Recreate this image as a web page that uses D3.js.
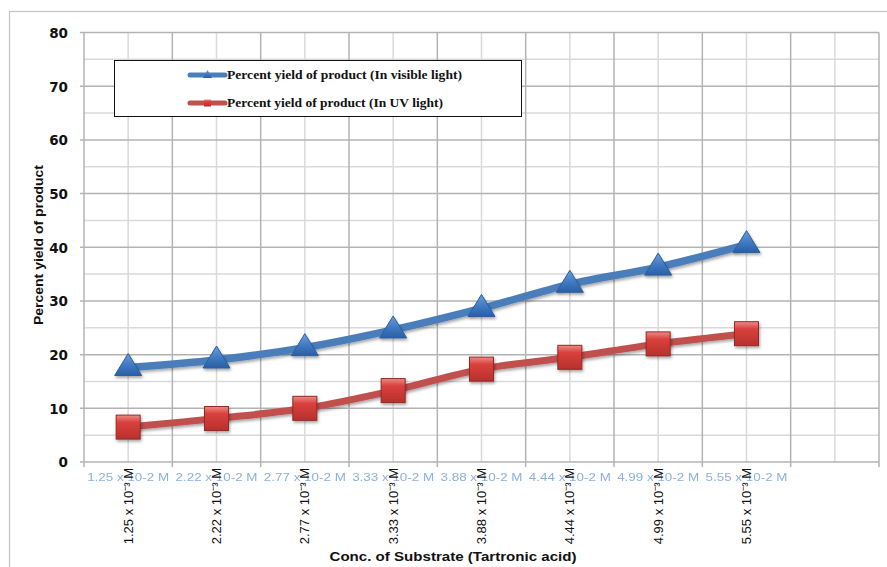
<!DOCTYPE html>
<html>
<head>
<meta charset="utf-8">
<script src="https://cdn.jsdelivr.net/npm/d3@7"></script>
<style>
  html, body { margin: 0; padding: 0; background: #ffffff; }
  svg { display: block; }
</style>
</head>
<body>
<svg id="chart" width="887" height="567"></svg>
<script>
// Substrate concentrations (category axis)
const concTop = ["1.25 x 10-2 M", "2.22 x 10-2 M", "2.77 x 10-2 M", "3.33 x 10-2 M",
                 "3.88 x 10-2 M", "4.44 x 10-2 M", "4.99 x 10-2 M", "5.55 x 10-2 M"];
const concRot = ["1.25 x 10\u207B\u00B3 M", "2.22 x 10\u207B\u00B3 M", "2.77 x 10\u207B\u00B3 M", "3.33 x 10\u207B\u00B3 M",
                 "3.88 x 10\u207B\u00B3 M", "4.44 x 10\u207B\u00B3 M", "4.99 x 10\u207B\u00B3 M", "5.55 x 10\u207B\u00B3 M"];
// Percent yield of product
const visibleYield = [17.6, 19.0, 21.3, 24.6, 28.6, 33.1, 36.3, 40.5];
const uvYield      = [6.5, 8.1, 10.0, 13.3, 17.3, 19.5, 22.0, 23.9];
const yTicks = [0, 10, 20, 30, 40, 50, 60, 70, 80];
const seriesNames = ["Percent yield of product (In visible light)", "Percent yield of product (In UV light)"];

const svg = d3.select("#chart");
const plotL = 84, plotR = 879, plotT = 32.5, plotB = 462;

// one extra empty slot at the right end of the category axis
const slots = concTop.map((d, i) => i).concat([8]);
const x = d3.scaleBand().domain(slots).range([plotL, plotR]).paddingInner(0).paddingOuter(0);
const cx = i => x(i) + x.bandwidth() / 2;
const y = d3.scaleLinear().domain([0, 80]).range([plotB, plotT]);

const defs = svg.append("defs");
const triGrad = defs.append("linearGradient").attr("id", "triGrad").attr("x1", 0).attr("y1", 0).attr("x2", 0).attr("y2", 1);
triGrad.append("stop").attr("offset", "0%").attr("stop-color", "#6c9ddb");
triGrad.append("stop").attr("offset", "55%").attr("stop-color", "#3f78c2");
triGrad.append("stop").attr("offset", "100%").attr("stop-color", "#2b5fa3");
const sqGrad = defs.append("linearGradient").attr("id", "sqGrad").attr("x1", 0).attr("y1", 0).attr("x2", 0).attr("y2", 1);
sqGrad.append("stop").attr("offset", "0%").attr("stop-color", "#f08a86");
sqGrad.append("stop").attr("offset", "30%").attr("stop-color", "#d9413d");
sqGrad.append("stop").attr("offset", "100%").attr("stop-color", "#b8302c");
const shadow = defs.append("filter").attr("id", "shadow").attr("x", "-30%").attr("y", "-30%").attr("width", "160%").attr("height", "160%");
shadow.append("feDropShadow").attr("dx", 1).attr("dy", 2).attr("stdDeviation", 1.5)
  .attr("flood-color", "#000").attr("flood-opacity", 0.35);
const soft = defs.append("filter").attr("id", "soft");
soft.append("feGaussianBlur").attr("stdDeviation", 0.5);

// chart area border
svg.append("rect").attr("x", 9.5).attr("y", 11.5).attr("width", 900).attr("height", 600)
  .attr("fill", "none").attr("stroke", "#c4c4c4").attr("stroke-width", 1.2);

// grid: minor every 5, major every 10
const grid = svg.append("g");
d3.range(5, 80, 10).forEach(v => {
  grid.append("line").attr("x1", plotL).attr("x2", plotR).attr("y1", y(v)).attr("y2", y(v))
    .attr("stroke", "#dadada").attr("stroke-width", 1.5);
});
slots.forEach(i => {
  grid.append("line").attr("x1", cx(i)).attr("x2", cx(i)).attr("y1", plotT).attr("y2", plotB)
    .attr("stroke", "#dadada").attr("stroke-width", 1.5);
});
yTicks.forEach(v => {
  grid.append("line").attr("x1", plotL - 4).attr("x2", plotR).attr("y1", y(v)).attr("y2", y(v))
    .attr("stroke", "#b3b3b3").attr("stroke-width", 1.5);
});
slots.concat([9]).forEach(i => {
  const xx = i < 9 ? x(i) : plotR;
  grid.append("line").attr("x1", xx).attr("x2", xx).attr("y1", plotT).attr("y2", plotB + 5)
    .attr("stroke", "#b3b3b3").attr("stroke-width", 1.5);
});

// y axis labels
const yAxis = d3.axisLeft(y).tickValues(yTicks).tickSize(0).tickPadding(16);
const yg = svg.append("g").attr("transform", `translate(${plotL},0)`).call(yAxis);
yg.select(".domain").remove();
yg.selectAll("text").attr("font-family", "DejaVu Sans").attr("font-weight", "bold")
  .attr("font-size", 13.5).attr("fill", "#111").attr("dy", "0.36em");

// faint horizontal category labels
svg.append("g").selectAll("text").data(concTop).join("text")
  .attr("x", (d, i) => cx(i)).attr("y", 481)
  .attr("text-anchor", "middle").attr("font-family", "Liberation Sans").attr("font-size", 10)
  .attr("fill", "#8cb0de").attr("textLength", 82).attr("lengthAdjust", "spacingAndGlyphs")
  .attr("filter", "url(#soft)")
  .text(d => d);

// rotated category labels
svg.append("g").selectAll("text").data(concRot).join("text")
  .attr("transform", (d, i) => `translate(${cx(i) + 4.5},468) rotate(-90)`)
  .attr("text-anchor", "end").attr("font-family", "Liberation Sans").attr("font-size", 13)
  .attr("fill", "#111").text(d => d);

// axis titles
svg.append("text").attr("transform", "translate(43,245) rotate(-90)")
  .attr("text-anchor", "middle").attr("font-family", "Liberation Sans").attr("font-weight", "bold")
  .attr("font-size", 13).attr("textLength", 160).attr("lengthAdjust", "spacingAndGlyphs")
  .attr("fill", "#111").text("Percent yield of product");
svg.append("text").attr("x", 453).attr("y", 561)
  .attr("text-anchor", "middle").attr("font-family", "Liberation Sans").attr("font-weight", "bold")
  .attr("font-size", 13.5).attr("textLength", 247).attr("lengthAdjust", "spacingAndGlyphs")
  .attr("fill", "#111").text("Conc. of Substrate (Tartronic acid)");

// series
const line = d3.line().x((d, i) => cx(i)).y(d => y(d)).curve(d3.curveCatmullRom.alpha(0.5));
const tri = "M0,-14L13.5,8L-13.5,8Z";

svg.append("path").datum(uvYield).attr("d", line).attr("fill", "none")
  .attr("stroke", "#c0504d").attr("stroke-width", 7).attr("stroke-linejoin", "round").attr("filter", "url(#shadow)");
svg.append("path").datum(visibleYield).attr("d", line).attr("fill", "none")
  .attr("stroke", "#4a7ebb").attr("stroke-width", 7.5).attr("stroke-linejoin", "round").attr("filter", "url(#shadow)");

svg.append("g").selectAll("rect").data(uvYield).join("rect")
  .attr("x", (d, i) => cx(i) - 12).attr("y", d => y(d) - 12)
  .attr("width", 24).attr("height", 24)
  .attr("fill", "url(#sqGrad)").attr("stroke", "#8f2b28").attr("stroke-width", 1)
  .attr("filter", "url(#shadow)");
svg.append("g").selectAll("path").data(visibleYield).join("path")
  .attr("transform", (d, i) => `translate(${cx(i)},${y(d)})`)
  .attr("d", tri).attr("fill", "url(#triGrad)").attr("stroke", "#2c5f9e").attr("stroke-width", 1)
  .attr("stroke-linejoin", "round").attr("filter", "url(#shadow)");

// legend
const lg = svg.append("g");
lg.append("rect").attr("x", 114.5).attr("y", 60.5).attr("width", 407).attr("height", 56)
  .attr("fill", "#ffffff").attr("stroke", "#111").attr("stroke-width", 1);
const legendRows = [
  { name: seriesNames[0], color: "#4a7ebb", yy: 75, len: 235, marker: "tri" },
  { name: seriesNames[1], color: "#c0504d", yy: 103, len: 216, marker: "sq" }
];
legendRows.forEach(r => {
  lg.append("line").attr("x1", 190).attr("x2", 225).attr("y1", r.yy).attr("y2", r.yy)
    .attr("stroke", r.color).attr("stroke-width", 5).attr("stroke-linecap", "round");
  if (r.marker === "tri") {
    lg.append("path").attr("transform", `translate(207.5,${r.yy})`).attr("d", "M0,-5L4.5,3L-4.5,3Z")
      .attr("fill", "url(#triGrad)");
  } else {
    lg.append("rect").attr("x", 204).attr("y", r.yy - 3.5).attr("width", 7).attr("height", 7)
      .attr("fill", "url(#sqGrad)");
  }
  lg.append("text").attr("x", 227).attr("y", r.yy + 4)
    .attr("font-family", "Liberation Serif").attr("font-weight", "bold").attr("font-size", 12.5)
    .attr("textLength", r.len).attr("lengthAdjust", "spacingAndGlyphs")
    .attr("fill", "#111").text(r.name);
});
</script>
</body>
</html>
